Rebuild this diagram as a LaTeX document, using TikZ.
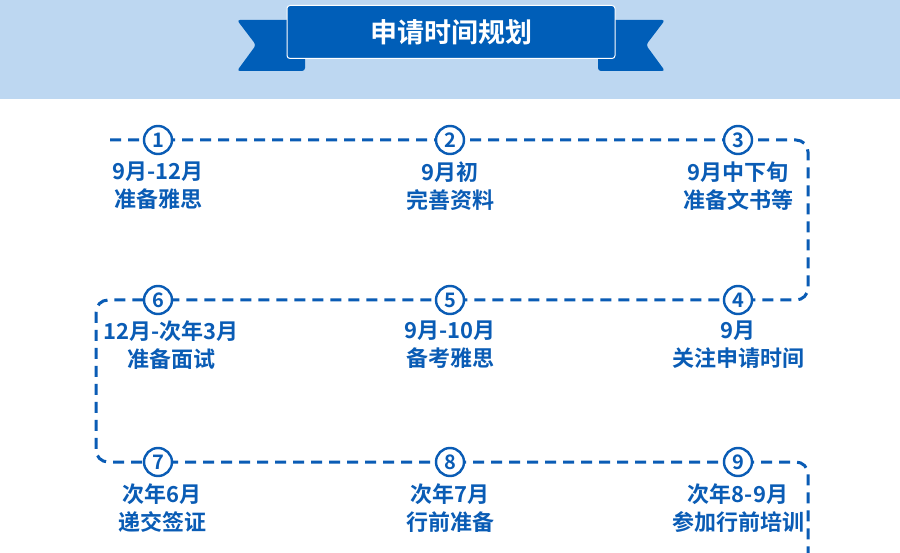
\documentclass[tikz,border=0pt]{standalone}
\usepackage{fontspec}
\setmainfont{Noto Sans CJK SC Bold}
\definecolor{bl}{HTML}{0A5CB5}
\definecolor{lb}{HTML}{BDD7F1}
\definecolor{dk}{HTML}{005EB8}
\begin{document}
\begin{tikzpicture}[x=1pt,y=-1pt,
  num/.style={circle,draw=bl,line width=2.4pt,fill=white,minimum size=28pt,inner sep=0pt,text=bl,font=\fontsize{20}{20}\selectfont},
  lab/.style={text=bl,font=\fontsize{22}{28}\selectfont,align=center},
  dline/.style={draw=bl,line width=3pt,dash pattern=on 11pt off 7pt,rounded corners=12pt}]
\useasboundingbox (0,0) rectangle (900,553);
\fill[white] (0,0) rectangle (900,553);
\fill[lb] (0,0) rectangle (900,99);
% ribbon tails
\fill[dk,rounded corners=3pt] (305,20) -- (237,20) -- (256,45) -- (237,71) -- (305,71) -- cycle;
\fill[dk,rounded corners=3pt] (598,20) -- (665,20) -- (646,45) -- (665,71) -- (598,71) -- cycle;
\node[draw=white,line width=1pt,fill=dk,rounded corners=3pt,minimum width=328pt,minimum height=53pt,text=white,font=\fontsize{27}{27}\selectfont] (title) at (451,32) {申请时间规划};
% path
\coordinate (s) at (110,140);
\coordinate (e) at (808,553);
\draw[dline] (s) -- (808,140) -- (808,300) -- (96,300) -- (96,462) -- (808,462) -- (e);
\node[num] (n1) at (158,140) {1};
\node[num] (n2) at (450,140) {2};
\node[num] (n3) at (738,140) {3};
\node[num] (n6) at (158,300) {6};
\node[num] (n5) at (450,300) {5};
\node[num] (n4) at (738,300) {4};
\node[num] (n7) at (158,462) {7};
\node[num] (n8) at (450,462) {8};
\node[num] (n9) at (738,462) {9};
\node[lab] (t1) at (158,186) {9月-12月\\准备雅思};
\node[lab] (t2) at (450,186) {9月初\\完善资料};
\node[lab] (t3) at (738,186) {9月中下旬\\准备文书等};
\node[lab] (t6) at (171,345) {12月-次年3月\\准备面试};
\node[lab] (t5) at (450,345) {9月-10月\\备考雅思};
\node[lab] (t4) at (738,345) {9月\\关注申请时间};
\node[lab] (t7) at (162,508) {次年6月\\递交签证};
\node[lab] (t8) at (450,508) {次年7月\\行前准备};
\node[lab] (t9) at (738,508) {次年8-9月\\参加行前培训};
\end{tikzpicture}
\end{document}
